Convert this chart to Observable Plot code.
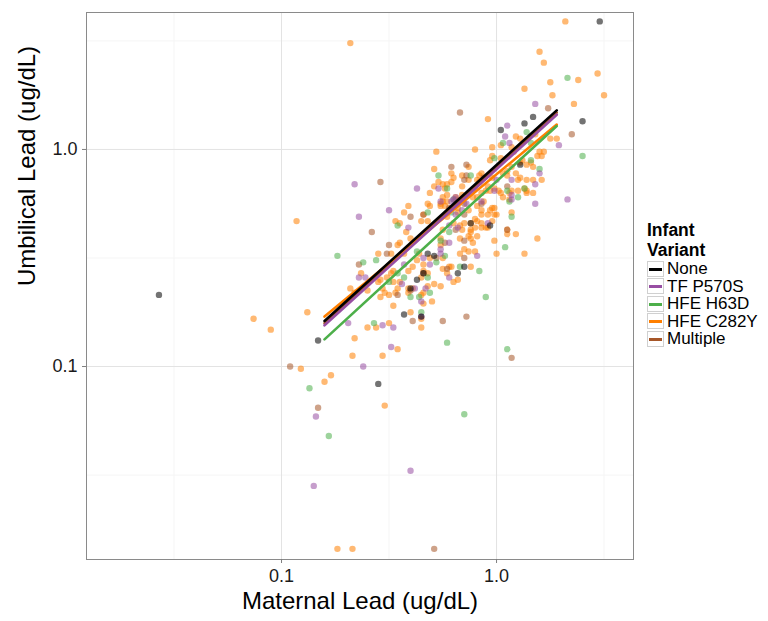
<!DOCTYPE html>
<html><head><meta charset="utf-8">
<script src="https://cdn.jsdelivr.net/npm/d3@7"></script>
<script src="https://cdn.jsdelivr.net/npm/@observablehq/plot@0.6"></script>
<style>
body{margin:0;background:#fff;font-family:"Liberation Sans",Arial,sans-serif;}
#wrap{position:relative;width:768px;height:621px;}
#legend{position:absolute;left:647px;top:220px;color:#000;font-size:17px;}
#legend .title{font-weight:bold;font-size:17.5px;line-height:20px;}
#legend .item{display:flex;align-items:center;height:17.5px;line-height:17.5px;}
#legend .key{width:17px;height:16px;border:1px solid #d0d0d0;box-sizing:border-box;position:relative;margin-right:3px;background:#fff;}
#legend .key span{position:absolute;left:1px;right:1px;top:6px;height:3px;}
</style></head><body><div id="wrap"></div><script>
// Groups and colours
const groups = ["None", "TF P570S", "HFE H63D", "HFE C282Y", "Multiple"];
const groupColors = ["#000000", "#984EA3", "#4DAF4A", "#FF7F00", "#A65628"];

// Values stored as log10(ug/dL)
const noneLogMaternal = [-1.57,-0.83,-0.43,-0.35,-0.55,0.48,0.17,0.40,0.02,0.13,0.11,-0.32,-0.37,-0.40,-0.29,-0.18,-0.15,-0.03,-0.12,-0.34];
const noneLogUmbilical = [-0.67,-0.88,-0.76,-0.77,-1.08,0.59,0.15,0.13,0.09,0.12,-0.07,-0.48,-0.60,-0.64,-0.49,-0.57,-0.54,-0.35,-0.34,-0.57];

const tfLogMaternal = [-0.84,-0.85,-0.35,-0.35,-0.53,-0.48,-0.69,-0.49,-0.62,-0.40,0.18,0.05,0.04,0.29,0.33,0.20,0.18,0.07,0.07,-0.01,0.18,-0.66,-0.64,-0.50,-0.37,-0.27,-0.21,-0.07,-0.16,-0.18,-0.41,-0.64,-0.61,-0.34,-0.38,-0.43,-0.44,-0.31,-0.26,-0.22,-0.33,-0.19,-0.26,-0.19,-0.22,-0.22,-0.26,-0.09,-0.04,0.06,0.07,-0.20,-0.14,0.00];
const tfLogUmbilical = [-1.23,-1.55,-0.70,-0.77,-0.81,-0.82,-0.80,-0.91,-1.00,-1.48,0.21,0.11,0.06,0.02,-0.23,-0.11,-0.16,-0.14,-0.21,-0.19,-0.25,-0.16,-0.31,-0.28,-0.18,-0.18,-0.24,-0.24,-0.28,-0.36,-0.36,-0.59,-0.59,-0.50,-0.64,-0.53,-0.62,-0.53,-0.48,-0.59,-0.64,-0.22,-0.24,-0.30,-0.35,-0.43,-0.46,-0.49,-0.34,0.03,-0.23,-0.23,-0.25,-0.14];

const h63dLogMaternal = [-0.87,-0.78,-0.35,-0.57,-0.23,0.05,-0.15,0.33,0.14,0.40,0.03,-0.01,0.20,0.05,0.06,0.10,0.13,0.07,0.04,-0.05,-0.74,-0.62,-0.56,-0.27,-0.23,-0.12,-0.21,-0.46,-0.37,-0.46,-0.50,-0.43,-0.40,-0.36,-0.28,-0.24,-0.26,-0.22,-0.32,-0.31,-0.20,-0.08,-0.17,0.16,0.16,-0.32];
const h63dLogUmbilical = [-1.10,-1.32,-0.75,-0.80,-0.89,-0.92,-1.22,0.33,0.08,-0.03,0.03,-0.04,-0.09,-0.19,-0.24,-0.22,-0.18,-0.31,-0.45,-0.68,-0.49,-0.52,-0.51,-0.12,-0.18,-0.12,-0.29,-0.35,-0.47,-0.57,-0.61,-0.59,-0.68,-0.68,-0.52,-0.49,-0.42,-0.38,-0.59,-0.66,-0.23,-0.56,-0.54,-0.05,0.03,-0.29];

const c282yLogMaternal = [-0.93,-0.88,-1.13,-1.05,-0.91,-0.80,-0.77,-0.48,-0.40,-0.34,-0.35,-0.60,-0.56,-0.50,-0.66,-0.46,-0.67,-0.53,-0.52,-0.74,-0.67,-0.68,0.32,0.20,0.22,0.38,0.47,0.50,0.25,0.26,0.13,0.36,-0.04,0.09,0.11,0.25,0.28,-0.02,0.02,-0.10,-0.28,-0.02,0.16,0.19,0.20,0.21,0.22,0.21,0.14,0.13,0.10,0.10,0.07,0.09,0.05,0.07,0.01,0.03,0.06,0.17,0.14,0.07,0.05,-0.01,0.00,0.13,0.19,0.09,-0.55,-0.29,-0.27,-0.29,-0.24,-0.23,-0.21,-0.13,-0.16,-0.13,-0.16,-0.16,-0.09,-0.08,-0.07,-0.10,-0.11,-0.09,-0.04,-0.05,-0.19,-0.23,-0.26,-0.18,-0.13,-0.09,-0.07,-0.04,-0.03,-0.02,-0.07,-0.09,-0.10,-0.12,-0.05,-0.07,-0.10,-0.15,-0.16,-0.13,-0.09,-0.12,-0.25,-0.31,-0.43,-0.41,-0.47,-0.45,-0.42,-0.34,-0.32,-0.32,-0.45,-0.46,-0.49,-0.63,-0.68,-0.66,-0.60,-0.36,-0.37,-0.39,-0.34,-0.35,-0.49,-0.51,-0.48,-0.45,-0.47,-0.50,-0.41,-0.54,-0.55,-0.53,-0.54,-0.52,-0.40,-0.43,-0.48,-0.41,-0.46,-0.41,-0.39,-0.35,-0.31,-0.34,-0.32,-0.25,-0.26,-0.25,-0.22,-0.18,-0.20,-0.23,-0.26,-0.29,-0.32,-0.34,-0.30,-0.35,-0.25,-0.24,-0.21,-0.18,-0.23,-0.20,-0.17,-0.25,-0.26,-0.12,-0.17,-0.15,-0.13,-0.17,-0.12,-0.21,0.05,0.00,-0.04,-0.07,-0.12,-0.01,-0.11,-0.10,0.07,0.08,-0.03,0.02,0.18,0.11,0.12,0.14,0.17,0.05,0.17,0.11,0.03,0.06,0.02,-0.01,0.14,-0.07,-0.06,-0.20,-0.21,-0.25,-0.23,-0.19,-0.08,-0.02,-0.03,-0.31,-0.26,-0.01,-0.02,-0.35];
const c282yLogUmbilical = [-0.33,-0.75,-0.78,-0.83,-1.01,-1.07,-1.04,-0.72,-0.75,-0.71,-0.82,-0.82,-0.82,-0.80,-0.87,-0.92,-0.95,-0.95,-1.18,-1.84,-1.84,0.49,0.59,0.45,0.40,0.32,0.35,0.25,0.31,0.25,0.28,0.21,0.14,0.06,0.05,0.05,0.05,0.01,0.02,0.00,-0.01,-0.03,-0.06,-0.03,-0.01,-0.03,-0.01,-0.14,-0.19,-0.18,-0.14,-0.19,-0.08,-0.11,-0.12,-0.19,-0.19,-0.22,-0.23,-0.20,-0.20,-0.29,-0.37,-0.42,-0.48,-0.48,-0.41,-0.39,-0.48,-0.09,-0.15,-0.17,-0.18,-0.16,-0.11,-0.08,-0.12,-0.14,-0.17,-0.21,-0.14,-0.12,-0.11,-0.18,-0.22,-0.22,-0.17,-0.19,-0.23,-0.24,-0.26,-0.27,-0.28,-0.26,-0.28,-0.30,-0.28,-0.27,-0.30,-0.33,-0.32,-0.34,-0.36,-0.36,-0.36,-0.34,-0.37,-0.40,-0.40,-0.37,-0.24,-0.20,-0.29,-0.26,-0.33,-0.34,-0.38,-0.30,-0.33,-0.25,-0.43,-0.44,-0.48,-0.57,-0.64,-0.66,-0.65,-0.48,-0.51,-0.54,-0.56,-0.59,-0.57,-0.59,-0.61,-0.61,-0.66,-0.67,-0.64,-0.60,-0.61,-0.64,-0.68,-0.66,-0.41,-0.48,-0.56,-0.56,-0.64,-0.66,-0.64,-0.67,-0.50,-0.53,-0.57,-0.50,-0.44,-0.55,-0.54,-0.60,-0.61,-0.57,-0.63,-0.62,-0.63,-0.66,-0.70,-0.78,-0.22,-0.26,-0.27,-0.29,-0.31,-0.34,-0.35,-0.37,-0.41,-0.41,-0.41,-0.46,-0.47,-0.48,-0.54,-0.54,-0.39,-0.30,-0.36,-0.34,-0.38,-0.27,-0.43,-0.47,0.01,-0.01,-0.05,-0.04,0.07,-0.06,-0.05,-0.07,-0.08,-0.10,-0.14,-0.13,-0.11,-0.20,-0.20,-0.18,-0.14,-0.20,-0.24,-0.13,-0.15,-0.16,-0.21,-0.22,-0.15,-0.13,-0.19,-0.26,-0.25,-0.30,-0.33,-0.33];

const multipleLogMaternal = [-0.96,-0.83,-0.39,-0.25,-0.14,0.07,-0.29,0.24,-0.17,0.35,0.05,0.05,-0.54,-0.58,-0.64,-0.21,-0.14,-0.14,-0.15,-0.06,-0.22,-0.07,-0.15,-0.15,-0.40,-0.34,-0.50,-0.51,-0.46,-0.40,-0.34,-0.28,-0.24,-0.19,-0.15,-0.15,-0.23];
const multipleLogUmbilical = [-1.00,-1.19,-0.79,-0.79,-0.77,-0.96,-1.84,0.19,0.17,0.07,-0.17,-0.37,-0.15,-0.38,-0.53,-0.08,-0.07,-0.12,-0.14,-0.13,-0.27,-0.25,-0.25,-0.30,-0.31,-0.30,-0.44,-0.48,-0.67,-0.65,-0.57,-0.50,-0.43,-0.37,-0.42,-0.50,-0.55];

// Fitted lines (log10 endpoints)
const fitLogMaternalRange = [-0.80, 0.28];
const fitLogUmbilicalStart = [-0.79, -0.81, -0.875, -0.77, -0.80];
const fitLogUmbilicalEnd = [0.18, 0.16, 0.108, 0.115, 0.17];

// Axis breaks
const majorBreaks = [0.1, 1];
const minorBreaks = [Math.pow(10,-1.5), Math.pow(10,-0.5), Math.pow(10,0.5)];

const pts = [];
function addGroup(name, lx, ly){ lx.forEach((v,i)=>pts.push({group:name, maternal:Math.pow(10,v), umbilical:Math.pow(10,ly[i])})); }
addGroup("HFE C282Y", c282yLogMaternal, c282yLogUmbilical);
addGroup("Multiple", multipleLogMaternal, multipleLogUmbilical);
addGroup("HFE H63D", h63dLogMaternal, h63dLogUmbilical);
addGroup("TF P570S", tfLogMaternal, tfLogUmbilical);
addGroup("None", noneLogMaternal, noneLogUmbilical);

const fitOrder = ["Multiple", "HFE C282Y", "HFE H63D", "TF P570S", "None"];
const fits = [];
fitOrder.forEach(g=>{
  const i = groups.indexOf(g);
  fits.push({group:g, maternal:Math.pow(10,fitLogMaternalRange[0]), umbilical:Math.pow(10,fitLogUmbilicalStart[i])});
  fits.push({group:g, maternal:Math.pow(10,fitLogMaternalRange[1]), umbilical:Math.pow(10,fitLogUmbilicalEnd[i])});
});

const chart = Plot.plot({
  width: 768, height: 621,
  marginLeft: 86, marginRight: 135, marginTop: 12, marginBottom: 62,
  style: {background:"#fff", fontFamily:"'Liberation Sans', Arial, sans-serif", fontSize:"18px", color:"#1a1a1a", overflow:"visible"},
  x: {type:"log", domain:[Math.pow(10,-1.907), Math.pow(10,0.637)]},
  y: {type:"log", domain:[Math.pow(10,-1.889), Math.pow(10,0.631)]},
  color: {domain: groups, range: groupColors},
  marks: [
    Plot.gridX({ticks: minorBreaks, stroke:"#f5f5f5", strokeOpacity:1, strokeWidth:1}),
    Plot.gridY({ticks: minorBreaks, stroke:"#f5f5f5", strokeOpacity:1, strokeWidth:1}),
    Plot.gridX({ticks: majorBreaks, stroke:"#e3e3e3", strokeOpacity:1, strokeWidth:1}),
    Plot.gridY({ticks: majorBreaks, stroke:"#e3e3e3", strokeOpacity:1, strokeWidth:1}),
    Plot.dot(pts, {x:"maternal", y:"umbilical", fill:"group", r:3.2, fillOpacity:0.55}),
    Plot.line(fits, {x:"maternal", y:"umbilical", z:"group", stroke:"group", strokeWidth:2.6}),
    Plot.frame({stroke:"#8a8a8a"}),
    Plot.axisX({ticks: majorBreaks, tickFormat: d=>d.toFixed(1), tickSize:4, tickPadding:6, stroke:"#7f7f7f", fill:"#1a1a1a", label:null}),
    Plot.axisY({ticks: majorBreaks, tickFormat: d=>d.toFixed(1), tickSize:4, tickPadding:5, stroke:"#7f7f7f", fill:"#1a1a1a", label:null}),
    Plot.text(["Maternal Lead (ug/dL)"], {text:d=>d, frameAnchor:"bottom", dy:49, fontSize:24, fill:"#000"}),
    Plot.text(["Umbilical Lead (ug/dL)"], {text:d=>d, frameAnchor:"left", dx:-59, rotate:-90, fontSize:24, fill:"#000"})
  ]
});
const wrap = document.getElementById("wrap");
wrap.appendChild(chart);

// Legend
const legend = document.createElement("div");
legend.id = "legend";
legend.innerHTML = '<div class="title">Infant<br>Variant</div>' + groups.map((g,i)=>
  `<div class="item"><div class="key"><span style="background:${groupColors[i]}"></span></div>${g}</div>`).join("");
wrap.appendChild(legend);
</script></body></html>
